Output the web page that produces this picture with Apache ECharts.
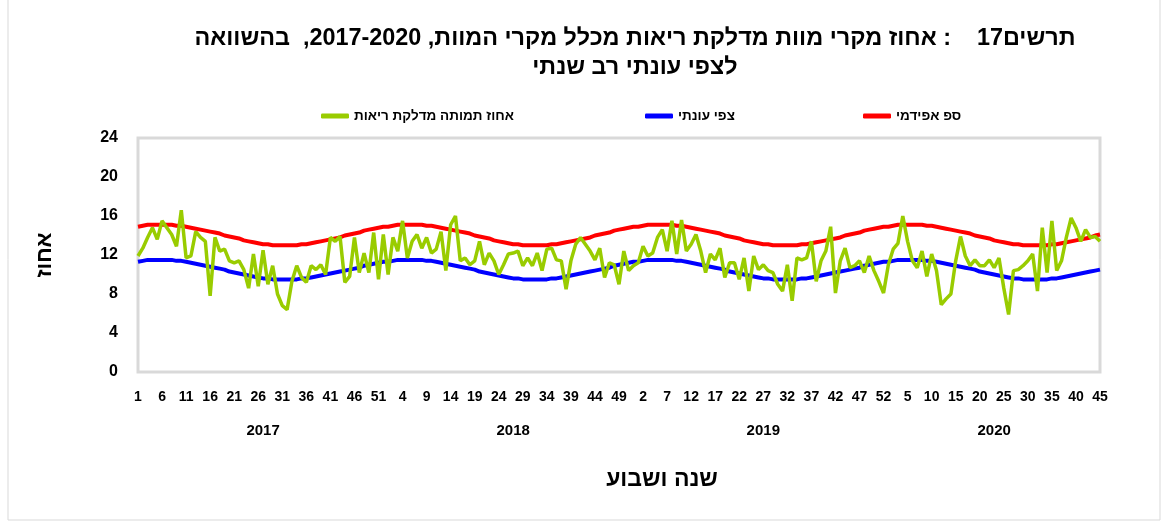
<!DOCTYPE html>
<html>
<head>
<meta charset="utf-8">
<title>תרשים 17</title>
<script src="https://cdn.jsdelivr.net/npm/echarts@6/dist/echarts.min.js"></script>
<style>
    html, body { margin: 0; padding: 0; background: #fff; }
    #chartmain { width: 1170px; height: 527px; }
</style>
</head>
<body>
<div id="chartmain" dir="rtl"></div>
<script type="text/javascript">
// שנים ומספר שבועות בכל שנה
var years = ['2017', '2018', '2019', '2020'];
var weekCounts = [52, 52, 52, 45];

// ספ אפידמי - לפי שבוע בשנה (1..52)
var epidemicWeekly = [14.9, 15.0, 15.1, 15.1, 15.1, 15.1, 15.1, 15.1, 15.0, 15.0,
    14.9, 14.8, 14.7, 14.6, 14.5, 14.4, 14.3, 14.2, 14.0, 13.9,
    13.8, 13.7, 13.5, 13.4, 13.3, 13.2, 13.1, 13.1, 13.0, 13.0,
    13.0, 13.0, 13.0, 13.0, 13.1, 13.1, 13.2, 13.3, 13.4, 13.5,
    13.6, 13.7, 13.8, 14.0, 14.1, 14.2, 14.3, 14.5, 14.6, 14.7,
    14.8, 14.9];

// צפי עונתי - לפי שבוע בשנה (1..52)
var seasonalWeekly = [11.3, 11.4, 11.5, 11.5, 11.5, 11.5, 11.5, 11.5, 11.4, 11.4,
    11.3, 11.2, 11.1, 11.0, 10.9, 10.8, 10.7, 10.6, 10.5, 10.3,
    10.2, 10.1, 10.0, 9.9, 9.8, 9.7, 9.6, 9.6, 9.5, 9.5,
    9.5, 9.5, 9.5, 9.5, 9.6, 9.6, 9.7, 9.8, 9.9, 10.0,
    10.1, 10.2, 10.3, 10.4, 10.5, 10.6, 10.7, 10.9, 11.0, 11.1,
    11.2, 11.3];

// אחוז תמותה מדלקת ריאות
var pneu2017 = [11.9, 12.7, 13.8, 14.8, 13.6, 15.5, 14.8, 14.1, 12.9, 16.6,
    11.7, 11.9, 14.4, 13.8, 13.4, 7.8, 13.8, 12.4, 12.6, 11.4,
    11.2, 11.4, 10.5, 8.6, 12.1, 8.8, 12.5, 9.0, 10.9, 8.0,
    6.8, 6.4, 9.3, 10.9, 9.7, 9.2, 10.9, 10.5, 11.0, 10.0,
    13.8, 13.4, 13.9, 9.2, 9.8, 13.8, 10.2, 12.2, 10.2, 14.3,
    9.5, 14.1];
var pneu2018 = [10.0, 13.8, 12.4, 15.5, 11.7, 13.4, 14.1, 12.7, 13.8, 12.2,
    12.6, 14.4, 10.4, 15.1, 16.0, 11.4, 11.7, 11.0, 11.4, 13.4,
    11.0, 12.2, 11.4, 10.0, 11.0, 12.1, 12.2, 12.4, 10.9, 11.7,
    10.9, 12.2, 10.4, 12.6, 12.7, 11.5, 11.4, 8.5, 11.4, 13.1,
    13.8, 13.1, 12.4, 11.5, 12.7, 9.7, 11.2, 11.0, 9.0, 12.4,
    10.4, 10.9];
var pneu2019 = [11.2, 12.9, 11.9, 12.2, 13.8, 14.6, 12.4, 15.5, 12.1, 15.6,
    12.4, 13.1, 14.1, 12.4, 10.2, 12.1, 11.5, 12.7, 9.7, 11.2,
    11.2, 9.5, 11.7, 8.3, 11.9, 10.5, 11.0, 10.4, 10.2, 9.0,
    8.3, 11.0, 7.3, 11.7, 11.5, 11.7, 13.4, 9.3, 11.4, 12.4,
    14.9, 8.1, 11.4, 12.7, 10.7, 10.9, 11.4, 10.2, 11.9, 10.4,
    9.3, 8.1];
var pneu2020 = [11.0, 12.6, 13.2, 16.0, 13.4, 11.4, 10.7, 12.4, 9.8, 12.1,
    10.4, 6.9, 7.5, 8.0, 11.4, 13.9, 11.9, 10.9, 11.5, 10.9,
    10.9, 11.5, 10.7, 11.7, 8.6, 5.9, 10.4, 10.5, 10.9, 11.4,
    12.1, 8.3, 14.8, 10.2, 15.5, 10.4, 11.4, 13.8, 15.8, 14.8,
    13.4, 14.6, 13.8, 13.9, 13.4];

var yTicks = [0, 4, 8, 12, 16, 20, 24];

var pneuByYear = [pneu2017, pneu2018, pneu2019, pneu2020];
var weekLabels = [], yearLabels = [], epidemic = [], seasonal = [], pneu = [];
var yearMid = {};
for (var y = 0; y < years.length; y++) {
    yearMid[weekLabels.length + Math.floor(weekCounts[y] / 2)] = true;
    for (var w = 0; w < weekCounts[y]; w++) {
        weekLabels.push(String(w + 1));
        yearLabels.push(years[y]);
        epidemic.push(epidemicWeekly[w]);
        seasonal.push(seasonalWeekly[w]);
        pneu.push(pneuByYear[y][w]);
    }
}

var FONT = "'Liberation Sans', Arial, sans-serif";
var myChart = echarts.init(document.getElementById('chartmain'));

function oneLegend(name, left) {
    return {
        data: [name],
        left: left,
        top: 104,
        icon: 'roundRect',
        itemWidth: 28,
        itemHeight: 5,
        textStyle: { fontFamily: FONT, fontWeight: 'bold', fontSize: 13.5, color: '#000' }
    };
}

myChart.setOption({
    animation: false,
    title: {
        text: 'תרשים17    : אחוז מקרי מוות מדלקת ריאות מכלל מקרי המוות, 2017-2020,  בהשוואה\nלצפי עונתי רב שנתי',
        left: 630,
        top: 19,
        textAlign: 'center',
        textStyle: {
            fontFamily: "'Liberation Sans Narrow', " + FONT,
            fontWeight: 'bold',
            fontSize: 23.4,
            lineHeight: 29,
            color: '#000'
        }
    },
    legend: [
        oneLegend('אחוז תמותה מדלקת ריאות', 316),
        oneLegend('צפי עונתי', 640),
        oneLegend('ספ אפידמי', 858)
    ],
    graphic: [{
        type: 'rect',
        shape: { x: 8, y: -4, width: 1152, height: 524 },
        style: { fill: 'none', stroke: '#d9d9d9', lineWidth: 1 },
        silent: true
    }],
    grid: {
        left: 138,
        right: 70,
        top: 138,
        bottom: 155,
        show: true,
        borderColor: '#d9d9d9',
        borderWidth: 3
    },
    xAxis: [{
        type: 'category',
        data: weekLabels,
        boundaryGap: false,
        axisLine: { show: false },
        axisTick: { show: false },
        axisLabel: {
            interval: 4,
            margin: 18,
            fontFamily: FONT, fontWeight: 'bold', fontSize: 14, color: '#000'
        },
        name: 'שנה ושבוע',
        nameLocation: 'middle',
        nameGap: 96,
        nameTextStyle: {
            fontFamily: FONT, fontWeight: 'bold', fontSize: 23, color: '#000',
            padding: [0, 0, 0, 86]
        }
    }, {
        type: 'category',
        data: yearLabels,
        boundaryGap: false,
        position: 'bottom',
        axisLine: { show: false },
        axisTick: { show: false },
        axisLabel: {
            interval: function (i) { return !!yearMid[i]; },
            margin: 51,
            fontFamily: FONT, fontWeight: 'bold', fontSize: 15, color: '#000'
        }
    }],
    yAxis: {
        type: 'value',
        min: yTicks[0],
        max: yTicks[yTicks.length - 1],
        interval: 4,
        splitLine: { show: false },
        axisLine: { show: false },
        axisTick: { show: false },
        axisLabel: { margin: 20, fontFamily: FONT, fontWeight: 'bold', fontSize: 16, color: '#000' },
        name: 'אחוז',
        nameLocation: 'middle',
        nameGap: 82,
        nameTextStyle: { fontFamily: FONT, fontWeight: 'bold', fontSize: 22, color: '#000' }
    },
    series: [{
        name: 'ספ אפידמי',
        type: 'line',
        data: epidemic,
        symbol: 'none',
        itemStyle: { color: '#ff0000' },
        lineStyle: { color: '#ff0000', width: 4 }
    }, {
        name: 'צפי עונתי',
        type: 'line',
        data: seasonal,
        symbol: 'none',
        itemStyle: { color: '#0000ff' },
        lineStyle: { color: '#0000ff', width: 4 }
    }, {
        name: 'אחוז תמותה מדלקת ריאות',
        type: 'line',
        data: pneu,
        symbol: 'none',
        itemStyle: { color: '#99cc00' },
        lineStyle: { color: '#99cc00', width: 3.5 }
    }]
});
</script>
</body>
</html>
